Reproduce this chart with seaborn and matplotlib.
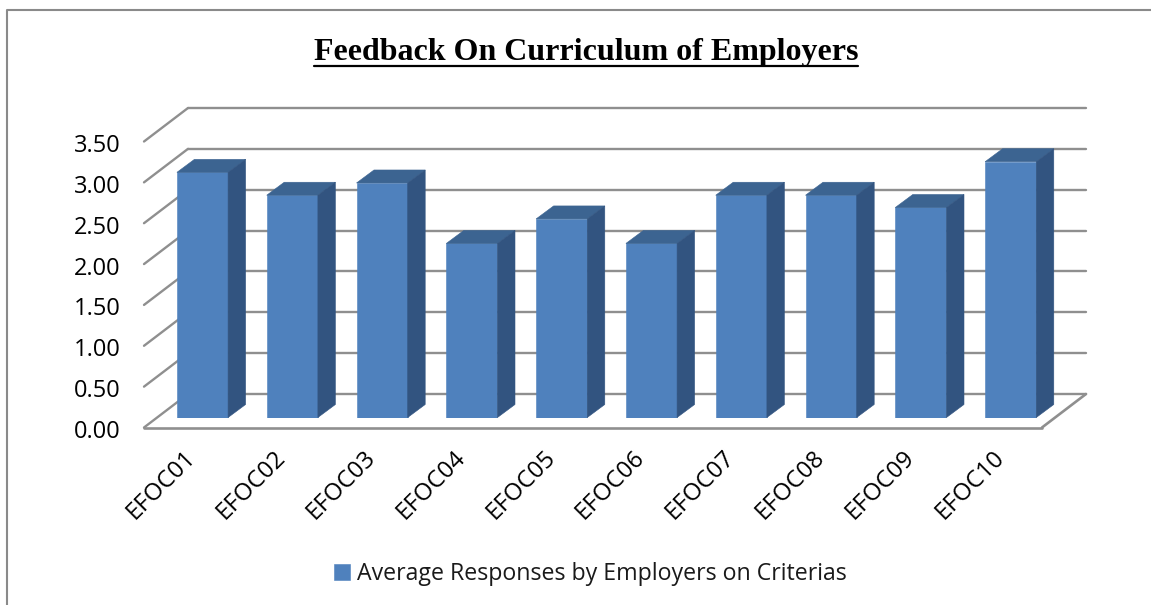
import pandas as pd
import matplotlib
matplotlib.use('Agg')
import matplotlib.pyplot as plt
import matplotlib.transforms as mtrans
from matplotlib.patches import Polygon
from matplotlib.lines import Line2D
import seaborn as sns

# Data
categories = ['EFOC01', 'EFOC02', 'EFOC03', 'EFOC04', 'EFOC05',
              'EFOC06', 'EFOC07', 'EFOC08', 'EFOC09', 'EFOC10']
averages = [3.00, 2.72, 2.87, 2.13, 2.43, 2.13, 2.72, 2.72, 2.57, 3.13]
y_ticks = [0, 0.5, 1, 1.5, 2, 2.5, 3, 3.5]
title = 'Feedback On Curriculum of Employers'
series_name = 'Average Responses by Employers on Criterias'

W, H = 1151, 605
GRAY = '#8f8f8f'
FRONT, TOP, SIDE = '#4f81bd', '#3c6491', '#325480'
BACK_DX, BACK_DY = 44, 33.5    # wall offset from the front axis
BAR_DX, BAR_DY = 13.6, 10      # bar row offset from the front axis
DEPTH_DX, DEPTH_DY = 17.5, 13  # bar depth

sns.set_theme(style='white')
plt.rcParams['font.family'] = ['Open Sans', 'DejaVu Sans']

df = pd.DataFrame({'criteria': categories, 'average': averages})

fig = plt.figure(figsize=(W / 100, H / 100), dpi=100)


def axes_px(x0, x1, y_bottom, y_top):
    return fig.add_axes([x0 / W, 1 - y_bottom / H, (x1 - x0) / W, (y_bottom - y_top) / H])


X0, X1, Y0, Y1 = 144, 1042, 427.5, 141.5

# front axis, carries the tick labels and the wall
ax = axes_px(X0, X1, Y0, Y1)
ax.set_xlim(-0.5, 9.5)
ax.set_ylim(0, 3.5)
ax.patch.set_alpha(0)
sns.despine(ax=ax, left=True, bottom=True)
ax.set_yticks(y_ticks)
ax.set_yticklabels([f'{v:.2f}' for v in y_ticks], fontsize=17, color='black')
ax.set_xticks(range(len(categories)))
ax.set_xticklabels(categories, rotation=45, ha='right', va='top',
                   rotation_mode='anchor', fontsize=17.3, color='black')
ax.tick_params(axis='y', length=0, pad=17)
ax.tick_params(axis='x', length=0, pad=12)

# nudge tick labels by a few pixels
for lab in ax.get_xticklabels():
    lab.set_transform(lab.get_transform() + mtrans.Affine2D().translate(-5, -1))
for lab in ax.get_yticklabels():
    lab.set_transform(lab.get_transform() + mtrans.Affine2D().translate(0, -1.5))

back = mtrans.offset_copy(ax.transData, fig, x=BACK_DX, y=BACK_DY, units='dots')
for v in y_ticks:
    ax.plot([-0.5, 9.5], [v, v], color=GRAY, lw=1.7, transform=back, clip_on=False)
    p0 = ax.transData.transform((-0.5, v))
    ax.plot([p0[0], p0[0] + BACK_DX], [p0[1], p0[1] + BACK_DY], color=GRAY, lw=1.7,
            transform=mtrans.IdentityTransform(), clip_on=False)
# floor
ax.plot([-0.5, 9.5], [0, 0], color=GRAY, lw=1.9, clip_on=False)
p1 = ax.transData.transform((9.5, 0))
ax.plot([p1[0], p1[0] + BACK_DX], [p1[1], p1[1] + BACK_DY], color=GRAY, lw=1.9,
        transform=mtrans.IdentityTransform(), clip_on=False)

# bars sit a little behind the front axis
bar_ax = axes_px(X0 + BAR_DX, X1 + BAR_DX, Y0 - BAR_DY, Y1 - BAR_DY)
sns.barplot(data=df, x='criteria', y='average', color=FRONT, saturation=1, width=0.57,
            ax=bar_ax, edgecolor=FRONT, linewidth=0.4)
bar_ax.set_xlim(-0.5, 9.5)
bar_ax.set_ylim(0, 3.5)
bar_ax.axis('off')

for bar in bar_ax.patches:
    (x0, y0) = bar_ax.transData.transform((bar.get_x(), 0))
    (x1, y1) = bar_ax.transData.transform((bar.get_x() + bar.get_width(), bar.get_height()))
    top = [(x0, y1), (x1, y1), (x1 + DEPTH_DX, y1 + DEPTH_DY), (x0 + DEPTH_DX, y1 + DEPTH_DY)]
    side = [(x1, y0), (x1 + DEPTH_DX, y0 + DEPTH_DY), (x1 + DEPTH_DX, y1 + DEPTH_DY), (x1, y1)]
    for pts, c in ((top, TOP), (side, SIDE)):
        bar_ax.add_patch(Polygon(pts, closed=True, facecolor=c, edgecolor=c, lw=0.4,
                                 transform=mtrans.IdentityTransform(), clip_on=False))

# title with underline
title_txt = fig.text(586 / W, 1 - 52.5 / H, title, family='Liberation Serif', weight='bold',
                     fontsize=23, color='black', ha='center', va='center')
fig.canvas.draw()
bb = title_txt.get_window_extent()
fig.add_artist(Line2D([bb.x0 / W, bb.x1 / W], [1 - 66 / H, 1 - 66 / H], color='black', lw=1.6))

# legend
handle = bar_ax.patches[0]
fig.legend([handle], [series_name], loc='center', bbox_to_anchor=(590.5 / W, 1 - 574 / H),
           frameon=False, fontsize=16.7, handlelength=0.68, handleheight=0.68,
           handletextpad=0.3, labelcolor='#1a1a1a')

# chart frame, cut by the crop on the right and bottom
fig.add_artist(Line2D([7 / W, 7 / W, 1], [0, 1 - 10 / H, 1 - 10 / H], color='#8a8a8a', lw=1.5))

fig.savefig('out.png', dpi=100)
